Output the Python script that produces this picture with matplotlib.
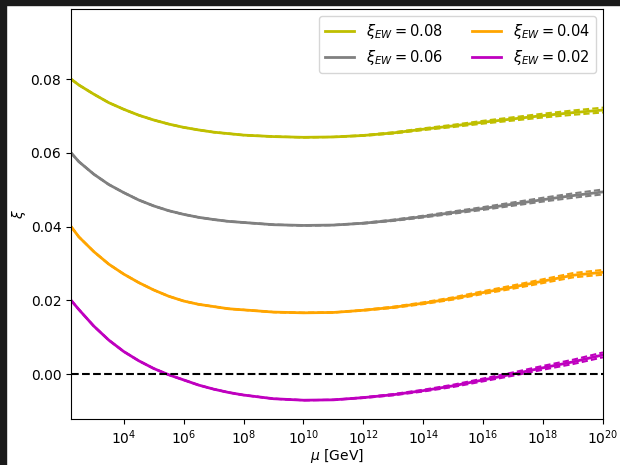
import matplotlib
matplotlib.use("Agg")
from matplotlib import pyplot as plt
from matplotlib.patches import Rectangle
import numpy as np

# log10 of the renormalisation scale mu in GeV (m_t = 173 GeV up to 1e20)
log_mu = [2.24, 2.5, 3, 3.5, 4, 4.5, 5, 5.5, 6, 6.5, 7, 7.5, 8,
          9, 10, 11, 12, 13, 14, 15, 16, 17, 18, 19, 20]

xi_08 = [0.0800, 0.0784, 0.0759, 0.0736, 0.0718, 0.0702, 0.0689, 0.0678, 0.0669, 0.0662,
         0.0656, 0.0652, 0.0648, 0.0644, 0.0642, 0.0643, 0.0647, 0.0654, 0.0664, 0.0673,
         0.0683, 0.0692, 0.0701, 0.0709, 0.0716]
xi_06 = [0.0600, 0.0576, 0.0542, 0.0514, 0.0492, 0.0472, 0.0456, 0.0443, 0.0433, 0.0425,
         0.0419, 0.0414, 0.0411, 0.0405, 0.0403, 0.0404, 0.0409, 0.0417, 0.0427, 0.0438,
         0.0449, 0.0461, 0.0473, 0.0484, 0.0494]
xi_04 = [0.0400, 0.0372, 0.0332, 0.0298, 0.0271, 0.0248, 0.0228, 0.0211, 0.0198, 0.0189,
         0.0183, 0.0177, 0.0174, 0.0168, 0.0166, 0.0167, 0.0173, 0.0181, 0.0192, 0.0205,
         0.0221, 0.0236, 0.0252, 0.0268, 0.0276]
xi_02 = [0.0200, 0.0175, 0.0130, 0.0092, 0.0061, 0.0036, 0.0015, -0.0002, -0.0016, -0.0030,
         -0.0041, -0.0050, -0.0057, -0.0067, -0.0071, -0.0070, -0.0064, -0.0056, -0.0045, -0.0032,
         -0.0016, 0.0000, 0.0017, 0.0033, 0.0052]

# uncertainty spread of the dashed lines around each curve
spread = [0, 0, 0, 0, 0, 0, 0, 0, 0, 0, 0, 0, 0, 0, 0, 0,
          0.0001, 0.00017, 0.00024, 0.00031, 0.00038, 0.00045, 0.00052, 0.00059, 0.00066]

labels = ["0.08", "0.06", "0.04", "0.02"]
colors = ["y", "gray", "orange", "m"]
series = [xi_08, xi_06, xi_04, xi_02]

fig = plt.figure(figsize=(6.2, 4.65), dpi=100)
ax = fig.add_axes([0.1145, 0.0989, 0.8581, 0.8817])

mu = 10.0 ** np.array(log_mu)
sp = np.array(spread)
for vals, c, lab in zip(series, colors, labels):
    vals = np.array(vals)
    ax.plot(mu, vals, color=c, lw=2, label=r"$\xi_{EW} = %s$" % lab)
    ax.plot(mu, vals + sp, color=c, lw=1.5, ls="--", dashes=(3, 1.5))
    ax.plot(mu, vals - sp, color=c, lw=1.5, ls="--", dashes=(3, 1.5))

ax.axhline(0, color="k", ls="--", lw=1.5)

ax.set_xscale("log")
ax.set_xlim(173, 1e20)
ax.set_ylim(-0.0122, 0.099)
ax.set_xticks([10.0**k for k in range(4, 21, 2)])
ax.xaxis.set_minor_locator(matplotlib.ticker.NullLocator())
ax.set_yticks([0.0, 0.02, 0.04, 0.06, 0.08])
ax.set_xlabel(r"$\mu$ [GeV]", labelpad=0)
ax.set_ylabel(r"$\xi$", labelpad=2)
ax.legend(loc="upper right", ncol=2, fontsize=10.5)

# dark frame strips from the screenshot
fig.patches.append(Rectangle((0, 0), 6 / 620, 1, transform=fig.transFigure,
                             color="#1a1a1a", zorder=-1))
fig.patches.append(Rectangle((0, 1 - 5 / 465), 1, 5 / 465, transform=fig.transFigure,
                             color="#1a1a1a", zorder=-1))

fig.savefig("out.png", dpi=100)
